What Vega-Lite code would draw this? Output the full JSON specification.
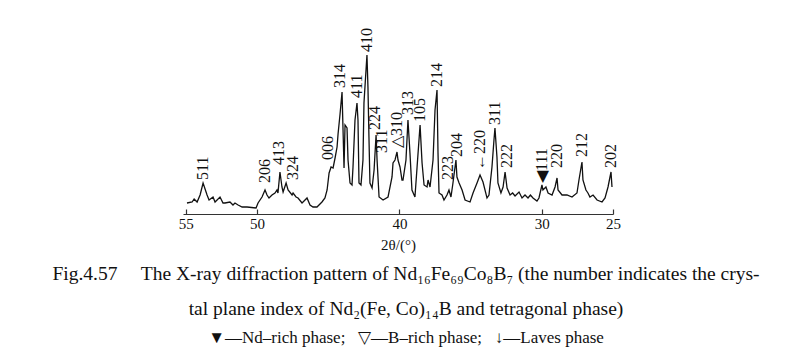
{
  "$schema": "https://vega.github.io/schema/vega-lite/v6.json",
  "width": 430,
  "height": 194,
  "autosize": {"type": "none"},
  "padding": {"left": 183, "top": 20, "right": 188, "bottom": 150},
  "background": "white",
  "config": {
    "view": {"stroke": null},
    "font": "Liberation Serif",
    "axis": {"labelFont": "Liberation Serif", "titleFont": "Liberation Serif"}
  },
  "title": {
    "text": ["Fig.4.57\u2003\u2009The X-ray diffraction pattern of Nd₁₆Fe₆₉Co₈B₇ (the number indicates the crys-", "tal plane index of Nd₂(Fe, Co)₁₄B and tetragonal phase)"],
    "subtitle": "▼—Nd–rich phase;\u00a0\u00a0\u00a0▽—B–rich phase;\u00a0\u00a0\u00a0↓—Laves phase",
    "orient": "bottom",
    "anchor": "middle",
    "font": "Liberation Serif",
    "fontSize": 19.5,
    "fontWeight": "normal",
    "lineHeight": 35,
    "color": "#111",
    "subtitleFont": "Liberation Serif",
    "subtitleFontSize": 17,
    "subtitleColor": "#111",
    "subtitlePadding": 10,
    "offset": 13,
    "dx": 8
  },
  "datasets": {
    "pattern": [
      {"two_theta": 54.92, "intensity": 11}, {"two_theta": 54.56, "intensity": 12}, {"two_theta": 54.42, "intensity": 15},
      {"two_theta": 54.21, "intensity": 12}, {"two_theta": 54.00, "intensity": 19}, {"two_theta": 53.79, "intensity": 31},
      {"two_theta": 53.51, "intensity": 19}, {"two_theta": 53.37, "intensity": 14}, {"two_theta": 53.09, "intensity": 17},
      {"two_theta": 52.95, "intensity": 12}, {"two_theta": 52.60, "intensity": 17}, {"two_theta": 52.39, "intensity": 11},
      {"two_theta": 52.25, "intensity": 11}, {"two_theta": 51.90, "intensity": 12}, {"two_theta": 51.69, "intensity": 9},
      {"two_theta": 51.55, "intensity": 11}, {"two_theta": 51.33, "intensity": 9}, {"two_theta": 51.05, "intensity": 7},
      {"two_theta": 50.70, "intensity": 7}, {"two_theta": 50.07, "intensity": 6}, {"two_theta": 49.93, "intensity": 11},
      {"two_theta": 49.65, "intensity": 17}, {"two_theta": 49.44, "intensity": 24}, {"two_theta": 49.30, "intensity": 19},
      {"two_theta": 49.16, "intensity": 16}, {"two_theta": 48.95, "intensity": 19}, {"two_theta": 48.74, "intensity": 21},
      {"two_theta": 48.60, "intensity": 24}, {"two_theta": 48.53, "intensity": 21}, {"two_theta": 48.39, "intensity": 42},
      {"two_theta": 48.25, "intensity": 27}, {"two_theta": 48.17, "intensity": 22}, {"two_theta": 47.96, "intensity": 31},
      {"two_theta": 47.82, "intensity": 24}, {"two_theta": 47.54, "intensity": 19}, {"two_theta": 47.47, "intensity": 21},
      {"two_theta": 47.26, "intensity": 17}, {"two_theta": 47.12, "intensity": 16}, {"two_theta": 46.84, "intensity": 11},
      {"two_theta": 46.63, "intensity": 14}, {"two_theta": 46.49, "intensity": 16}, {"two_theta": 46.28, "intensity": 9},
      {"two_theta": 46.07, "intensity": 7}, {"two_theta": 45.79, "intensity": 7}, {"two_theta": 45.44, "intensity": 12},
      {"two_theta": 45.23, "intensity": 16}, {"two_theta": 45.08, "intensity": 24}, {"two_theta": 44.94, "intensity": 41},
      {"two_theta": 44.80, "intensity": 47}, {"two_theta": 44.66, "intensity": 46}, {"two_theta": 44.52, "intensity": 56},
      {"two_theta": 44.38, "intensity": 67}, {"two_theta": 44.31, "intensity": 80}, {"two_theta": 44.17, "intensity": 100},
      {"two_theta": 44.03, "intensity": 122}, {"two_theta": 43.96, "intensity": 84}, {"two_theta": 43.89, "intensity": 46},
      {"two_theta": 43.82, "intensity": 89}, {"two_theta": 43.68, "intensity": 86}, {"two_theta": 43.61, "intensity": 54},
      {"two_theta": 43.47, "intensity": 31}, {"two_theta": 43.33, "intensity": 29}, {"two_theta": 43.26, "intensity": 47},
      {"two_theta": 43.12, "intensity": 94}, {"two_theta": 42.98, "intensity": 111}, {"two_theta": 42.91, "intensity": 94},
      {"two_theta": 42.84, "intensity": 31}, {"two_theta": 42.70, "intensity": 29}, {"two_theta": 42.56, "intensity": 54},
      {"two_theta": 42.49, "intensity": 111}, {"two_theta": 42.28, "intensity": 159}, {"two_theta": 42.21, "intensity": 127},
      {"two_theta": 42.14, "intensity": 77}, {"two_theta": 42.07, "intensity": 31}, {"two_theta": 41.92, "intensity": 26},
      {"two_theta": 41.78, "intensity": 44}, {"two_theta": 41.64, "intensity": 79}, {"two_theta": 41.57, "intensity": 54},
      {"two_theta": 41.43, "intensity": 17}, {"two_theta": 41.15, "intensity": 14}, {"two_theta": 40.80, "intensity": 17},
      {"two_theta": 40.52, "intensity": 37}, {"two_theta": 40.45, "intensity": 51}, {"two_theta": 40.31, "intensity": 54},
      {"two_theta": 40.17, "intensity": 62}, {"two_theta": 40.10, "intensity": 54}, {"two_theta": 39.96, "intensity": 47},
      {"two_theta": 39.82, "intensity": 34}, {"two_theta": 39.75, "intensity": 34}, {"two_theta": 39.54, "intensity": 54},
      {"two_theta": 39.40, "intensity": 94}, {"two_theta": 39.26, "intensity": 61}, {"two_theta": 39.12, "intensity": 24},
      {"two_theta": 38.91, "intensity": 17}, {"two_theta": 38.76, "intensity": 47}, {"two_theta": 38.55, "intensity": 89},
      {"two_theta": 38.41, "intensity": 51}, {"two_theta": 38.27, "intensity": 29}, {"two_theta": 38.06, "intensity": 27},
      {"two_theta": 37.99, "intensity": 34}, {"two_theta": 37.85, "intensity": 27}, {"two_theta": 37.64, "intensity": 54},
      {"two_theta": 37.50, "intensity": 104}, {"two_theta": 37.36, "intensity": 124}, {"two_theta": 37.29, "intensity": 61},
      {"two_theta": 37.22, "intensity": 21}, {"two_theta": 37.01, "intensity": 19}, {"two_theta": 36.87, "intensity": 14},
      {"two_theta": 36.66, "intensity": 19}, {"two_theta": 36.52, "intensity": 24}, {"two_theta": 36.38, "intensity": 17},
      {"two_theta": 36.24, "intensity": 31}, {"two_theta": 36.03, "intensity": 54}, {"two_theta": 35.96, "intensity": 37},
      {"two_theta": 35.81, "intensity": 31}, {"two_theta": 35.60, "intensity": 24}, {"two_theta": 35.39, "intensity": 14},
      {"two_theta": 35.04, "intensity": 12}, {"two_theta": 34.83, "intensity": 21}, {"two_theta": 34.55, "intensity": 31},
      {"two_theta": 34.34, "intensity": 39}, {"two_theta": 34.13, "intensity": 32}, {"two_theta": 33.85, "intensity": 16},
      {"two_theta": 33.71, "intensity": 19}, {"two_theta": 33.50, "intensity": 47}, {"two_theta": 33.36, "intensity": 74},
      {"two_theta": 33.29, "intensity": 86}, {"two_theta": 33.15, "intensity": 57}, {"two_theta": 33.08, "intensity": 31},
      {"two_theta": 32.87, "intensity": 21}, {"two_theta": 32.72, "intensity": 27}, {"two_theta": 32.58, "intensity": 42},
      {"two_theta": 32.44, "intensity": 26}, {"two_theta": 32.23, "intensity": 19}, {"two_theta": 32.05, "intensity": 21},
      {"two_theta": 31.88, "intensity": 18}, {"two_theta": 31.60, "intensity": 22}, {"two_theta": 31.39, "intensity": 16},
      {"two_theta": 31.18, "intensity": 19}, {"two_theta": 30.97, "intensity": 16}, {"two_theta": 30.80, "intensity": 19},
      {"two_theta": 30.62, "intensity": 16}, {"two_theta": 30.34, "intensity": 13}, {"two_theta": 30.20, "intensity": 16},
      {"two_theta": 29.99, "intensity": 29}, {"two_theta": 29.92, "intensity": 24}, {"two_theta": 29.71, "intensity": 27},
      {"two_theta": 29.56, "intensity": 21}, {"two_theta": 29.28, "intensity": 19}, {"two_theta": 29.07, "intensity": 27},
      {"two_theta": 28.93, "intensity": 36}, {"two_theta": 28.86, "intensity": 24}, {"two_theta": 28.58, "intensity": 19},
      {"two_theta": 28.23, "intensity": 19}, {"two_theta": 27.88, "intensity": 17}, {"two_theta": 27.53, "intensity": 21},
      {"two_theta": 27.39, "intensity": 34}, {"two_theta": 27.18, "intensity": 52}, {"two_theta": 27.11, "intensity": 34},
      {"two_theta": 26.90, "intensity": 24}, {"two_theta": 26.76, "intensity": 21}, {"two_theta": 26.62, "intensity": 17},
      {"two_theta": 26.40, "intensity": 19}, {"two_theta": 26.12, "intensity": 14}, {"two_theta": 25.77, "intensity": 12},
      {"two_theta": 25.56, "intensity": 16}, {"two_theta": 25.35, "intensity": 27}, {"two_theta": 25.14, "intensity": 42},
      {"two_theta": 25.07, "intensity": 27}
    ],
    "peaks": [
      {"two_theta": 53.79, "base": 34, "plane": "511"},
      {"two_theta": 49.44, "base": 31, "plane": "206"},
      {"two_theta": 48.45, "base": 49, "plane": "413"},
      {"two_theta": 47.47, "base": 34, "plane": "324"},
      {"two_theta": 45.01, "base": 54, "plane": "006"},
      {"two_theta": 44.17, "base": 126, "plane": "314"},
      {"two_theta": 42.98, "base": 116, "plane": "411"},
      {"two_theta": 42.28, "base": 162, "plane": "410"},
      {"two_theta": 41.71, "base": 84, "plane": "224"},
      {"two_theta": 41.22, "base": 61, "plane": "311"},
      {"two_theta": 40.17, "base": 66, "plane": "△310"},
      {"two_theta": 39.40, "base": 99, "plane": "313"},
      {"two_theta": 38.55, "base": 92, "plane": "105"},
      {"two_theta": 37.36, "base": 127, "plane": "214"},
      {"two_theta": 36.59, "base": 34, "plane": "223"},
      {"two_theta": 35.96, "base": 57, "plane": "204"},
      {"two_theta": 34.34, "base": 44, "plane": "←220"},
      {"two_theta": 33.29, "base": 89, "plane": "311"},
      {"two_theta": 32.44, "base": 46, "plane": "222"},
      {"two_theta": 29.99, "base": 31, "plane": "◀111"},
      {"two_theta": 28.93, "base": 46, "plane": "220"},
      {"two_theta": 27.18, "base": 57, "plane": "212"},
      {"two_theta": 25.14, "base": 46, "plane": "202"}
    ]
  },
  "layer": [
    {
      "data": {"name": "pattern"},
      "mark": {"type": "line", "color": "#111", "strokeWidth": 1.3},
      "encoding": {
        "x": {
          "field": "two_theta",
          "type": "quantitative",
          "scale": {"domain": [25, 55.2], "reverse": true, "nice": false, "zero": false},
          "axis": {
            "values": [55, 50, 40, 30, 25],
            "format": "d",
            "title": "2θ/(°)",
            "grid": false,
            "domainColor": "#333",
            "domainWidth": 1.2,
            "tickColor": "#333",
            "tickWidth": 1.2,
            "tickSize": -5,
            "labelFont": "Liberation Serif",
            "labelFontSize": 15,
            "labelColor": "#111",
            "labelPadding": 7,
            "labelFlush": false,
            "titleFont": "Liberation Serif",
            "titleFontSize": 15,
            "titleFontWeight": "normal",
            "titleColor": "#111",
            "titlePadding": 6
          }
        },
        "y": {"field": "intensity", "type": "quantitative", "scale": {"domain": [0, 194], "nice": false}, "axis": null}
      }
    },
    {
      "data": {"name": "peaks"},
      "mark": {"type": "text", "angle": 270, "align": "left", "baseline": "middle", "fontSize": 16, "font": "Liberation Serif", "color": "#111"},
      "encoding": {
        "x": {"field": "two_theta", "type": "quantitative"},
        "y": {"field": "base", "type": "quantitative"},
        "text": {"field": "plane"}
      }
    }
  ]
}
